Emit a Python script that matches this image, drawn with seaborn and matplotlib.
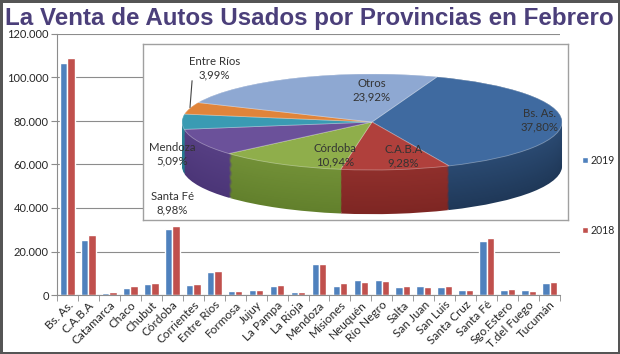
import numpy as np
import pandas as pd
import seaborn as sns
import matplotlib
matplotlib.use("Agg")
import matplotlib.pyplot as plt
from matplotlib.ticker import FuncFormatter, FixedLocator
import matplotlib.colors as mcolors
from matplotlib.patches import Patch

# ---------------- data ----------------
provincias = ["Bs. As.", "C.A.B.A", "Catamarca", "Chaco", "Chubut", "Córdoba",
              "Corrientes", "Entre Ríos", "Formosa", "Jujuy", "La Pampa", "La Rioja",
              "Mendoza", "Misiones", "Neuquén", "Río Negro", "Salta", "San Juan",
              "San Luis", "Santa Cruz", "Santa Fé", "Sgo.Estero", "T.del Fuego", "Tucumán"]
ventas_2019 = [106500, 25400, 1100, 3400, 5200, 30300, 4600, 10800, 1700, 2300, 4200, 1300,
               14100, 4300, 6800, 6800, 3700, 4300, 3900, 2400, 25000, 2100, 2100, 5600]
ventas_2018 = [109100, 27700, 1200, 4200, 5500, 31700, 5100, 11100, 1700, 2300, 4600, 1300,
               14400, 5700, 6000, 6400, 4300, 3600, 4300, 2400, 26400, 2800, 1800, 6000]
anios = ["2019", "2018"]

pie_labels = ["Bs. As.", "C.A.B.A", "Córdoba", "Santa Fé", "Mendoza", "Entre Ríos", "Otros"]
pie_shares = [37.80, 9.28, 10.94, 8.98, 5.09, 3.99, 23.92]
pie_pct_text = ["37,80%", "9,28%", "10,94%", "8,98%", "5,09%", "3,99%", "23,92%"]

title = "La Venta de Autos Usados por Provincias en Febrero"

# ---------------- styles ----------------
bar_colors = {"2019": "#4f81bd", "2018": "#c0504d"}
pie_top_colors = ["#3f6aa0", "#b0403c", "#8fae4b", "#6b519a", "#3a9bb3", "#e0843a", "#8ea8d2"]
pie_side_colors = ["#1f3858", "#7e2623", "#62802c", "#4b3577", "#24758a", "#b25d1c", "#6d87b3"]
label_pos = [(0.884, 0.04), (0.165, -0.71), (-0.195, -0.69), (-1.05, -1.69),
             (-1.05, -0.67), (-0.83, 1.125), (0.0, 0.67)]

W, H = 620, 354
fig = plt.figure(figsize=(W / 100, H / 100), dpi=100)
sns.set_style("white")
plt.rcParams["font.family"] = ["Lato", "DejaVu Sans"]

fig.patch.set_facecolor("white")
fig.patch.set_edgecolor("#555555")
fig.patch.set_linewidth(2.5)

def fx(px):
    return px / W

def fy(py):
    return 1 - py / H

# ---------------- bar chart ----------------
ax = fig.add_axes([fx(57), fy(295), fx(560) - fx(57), fy(34) - fy(295)])
df = pd.DataFrame({
    "provincia": provincias * 2,
    "anio": [anios[0]] * len(provincias) + [anios[1]] * len(provincias),
    "ventas": ventas_2019 + ventas_2018,
})
sns.barplot(data=df, x="provincia", y="ventas", hue="anio", hue_order=anios,
            palette=bar_colors, width=0.7, ax=ax, legend=False, saturation=1)
ax.set_ylim(0, 120000)
ax.set_xlim(-0.5, len(provincias) - 0.5)
ax.yaxis.set_major_locator(FixedLocator(np.arange(0, 120001, 20000)))
ax.yaxis.set_major_formatter(FuncFormatter(lambda v, p: f"{int(v):,}".replace(",", ".")))
ax.grid(axis="y", color="#8c8c8c", linewidth=0.8)
ax.set_axisbelow(True)
ax.set_xlabel("")
ax.set_ylabel("")
for s in ["top", "right"]:
    ax.spines[s].set_visible(False)
ax.spines["left"].set_color("#8c8c8c")
ax.spines["bottom"].set_color("#8c8c8c")
ax.tick_params(axis="y", labelsize=8, length=4, color="#8c8c8c", left=True, pad=2)
ax.set_xticks(np.arange(len(provincias)))
ax.set_xticklabels(provincias, rotation=45, ha="right", rotation_mode="anchor", fontsize=8.5)
ax.tick_params(axis="x", length=0, pad=3)
ax.set_xticks(np.arange(len(provincias) + 1) - 0.5, minor=True)
ax.tick_params(axis="x", which="minor", length=4, color="#8c8c8c", bottom=True)

# legend
handles = [Patch(facecolor=bar_colors[a], label=a) for a in anios]
fig.legend(handles=handles, loc="upper left", bbox_to_anchor=(fx(582), fy(155)),
           frameon=False, fontsize=7.6, handlelength=0.55, handleheight=0.55,
           handletextpad=0.3, labelspacing=5.55, borderpad=0, borderaxespad=0)

# ---------------- pie (3D-ish) ----------------
pax = fig.add_axes([fx(143), fy(220), fx(568) - fx(143), fy(44) - fy(220)])
depth = 0.92
n_layers = 40
for i in range(n_layers):
    t = i / (n_layers - 1)
    cy = -depth * (1 - t)
    cols = []
    for sc, tc in zip(pie_side_colors, pie_top_colors):
        a = np.array(mcolors.to_rgb(sc))
        b = np.array(mcolors.to_rgb(tc))
        cols.append(tuple(a + (b - a) * 0.35 * t))
    pax.pie(pie_shares, colors=cols, startangle=70, counterclock=False,
            center=(0, cy), radius=1, frame=True,
            wedgeprops=dict(linewidth=0, antialiased=True))
wedges, _ = pax.pie(pie_shares, colors=pie_top_colors, startangle=70, counterclock=False,
                    center=(0, 0), radius=1, frame=True,
                    wedgeprops=dict(linewidth=0.6, edgecolor=(1, 1, 1, 0.35)))
pax.set_aspect("auto")
pax.set_xlim(-229 / 190, 196 / 190)
pax.set_ylim(-98 / 48, 78 / 48)
pax.set_xticks([])
pax.set_yticks([])
pax.set_facecolor("white")
for s in pax.spines.values():
    s.set_visible(True)
    s.set_color("#a0a0a0")
    s.set_linewidth(1.0)

for lab, pct, (lx, ly) in zip(pie_labels, pie_pct_text, label_pos):
    pax.text(lx, ly, f"{lab}\n{pct}", ha="center", va="center", fontsize=8.2,
             color="#333333", linespacing=1.25)
# leader line Entre Ríos
pax.plot([-0.947, -0.958], [0.86, 0.30], color="#444444", linewidth=0.8)

# ---------------- title ----------------
fig.text(fx(5), fy(18), title, ha="left", va="center", fontsize=17.35, fontweight="bold",
         color="#4b3f7a", family=["Liberation Sans", "DejaVu Sans"])

fig.savefig("out.png", dpi=100)
